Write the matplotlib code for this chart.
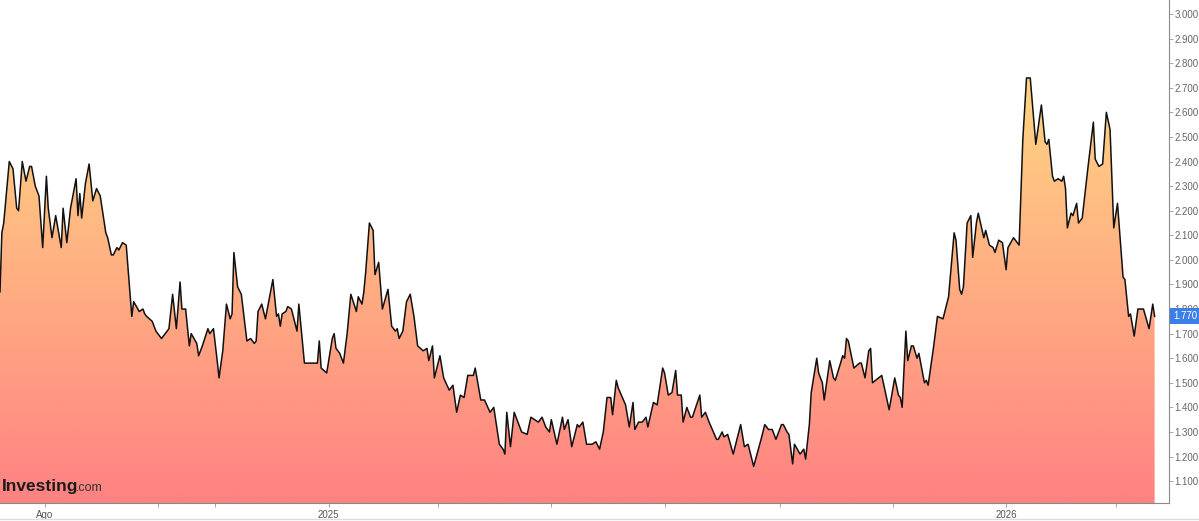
import numpy as np
import pandas as pd
import matplotlib
matplotlib.use('Agg')
import matplotlib.pyplot as plt
import matplotlib.dates as mdates
from matplotlib.colors import LinearSegmentedColormap
from matplotlib.patches import Polygon
from matplotlib.lines import Line2D

# datos (fecha, precio)
fechas = [
    '2024-07-08', '2024-07-09', '2024-07-10', '2024-07-13', '2024-07-15', '2024-07-17', '2024-07-18',
    '2024-07-20', '2024-07-22', '2024-07-24', '2024-07-25', '2024-07-27', '2024-07-29', '2024-07-31',
    '2024-08-02', '2024-08-03', '2024-08-05', '2024-08-07', '2024-08-10', '2024-08-11', '2024-08-13',
    '2024-08-15', '2024-08-18', '2024-08-19', '2024-08-20', '2024-08-21', '2024-08-23', '2024-08-25',
    '2024-08-27', '2024-08-29', '2024-08-31', '2024-09-03', '2024-09-04', '2024-09-06', '2024-09-07',
    '2024-09-09', '2024-09-10', '2024-09-12', '2024-09-14', '2024-09-17', '2024-09-18', '2024-09-21',
    '2024-09-23', '2024-09-24', '2024-09-25', '2024-09-28', '2024-09-30', '2024-10-03', '2024-10-06',
    '2024-10-07', '2024-10-09', '2024-10-11', '2024-10-13', '2024-10-14', '2024-10-16', '2024-10-18',
    '2024-10-19', '2024-10-22', '2024-10-23', '2024-10-25', '2024-10-28', '2024-10-29', '2024-10-31',
    '2024-11-02', '2024-11-03', '2024-11-05', '2024-11-07', '2024-11-09', '2024-11-10', '2024-11-11',
    '2024-11-13', '2024-11-15', '2024-11-18', '2024-11-20', '2024-11-22', '2024-11-23', '2024-11-24',
    '2024-11-26', '2024-11-28', '2024-11-30', '2024-12-02', '2024-12-04', '2024-12-05', '2024-12-06',
    '2024-12-07', '2024-12-09', '2024-12-10', '2024-12-12', '2024-12-15', '2024-12-16', '2024-12-19',
    '2024-12-26', '2024-12-27', '2024-12-28', '2024-12-31', '2025-01-03', '2025-01-04', '2025-01-05',
    '2025-01-07', '2025-01-09', '2025-01-11', '2025-01-13', '2025-01-16', '2025-01-17', '2025-01-19',
    '2025-01-20', '2025-01-21', '2025-01-23', '2025-01-25', '2025-01-26', '2025-01-28', '2025-01-30',
    '2025-02-02', '2025-02-04', '2025-02-06', '2025-02-07', '2025-02-08', '2025-02-10', '2025-02-12',
    '2025-02-14', '2025-02-16', '2025-02-18', '2025-02-21', '2025-02-23', '2025-02-24', '2025-02-26',
    '2025-02-27', '2025-03-02', '2025-03-04', '2025-03-07', '2025-03-09', '2025-03-11', '2025-03-13',
    '2025-03-15', '2025-03-17', '2025-03-20', '2025-03-21', '2025-03-24', '2025-03-26', '2025-03-29',
    '2025-03-31', '2025-04-03', '2025-04-05', '2025-04-06', '2025-04-07', '2025-04-09', '2025-04-11',
    '2025-04-15', '2025-04-18', '2025-04-20', '2025-04-24', '2025-04-26', '2025-04-28', '2025-04-30',
    '2025-05-01', '2025-05-04', '2025-05-07', '2025-05-08', '2025-05-10', '2025-05-12', '2025-05-15',
    '2025-05-16', '2025-05-18', '2025-05-20', '2025-05-23', '2025-05-25', '2025-05-27', '2025-05-29',
    '2025-05-31', '2025-06-02', '2025-06-03', '2025-06-05', '2025-06-06', '2025-06-10', '2025-06-12',
    '2025-06-14', '2025-06-15', '2025-06-17', '2025-06-19', '2025-06-21', '2025-06-22', '2025-06-25',
    '2025-06-27', '2025-06-30', '2025-07-01', '2025-07-03', '2025-07-05', '2025-07-07', '2025-07-08',
    '2025-07-10', '2025-07-11', '2025-07-13', '2025-07-15', '2025-07-16', '2025-07-20', '2025-07-21',
    '2025-07-23', '2025-07-25', '2025-07-29', '2025-07-30', '2025-08-01', '2025-08-02', '2025-08-04',
    '2025-08-07', '2025-08-11', '2025-08-13', '2025-08-15', '2025-08-18', '2025-08-22', '2025-08-24',
    '2025-08-26', '2025-08-28', '2025-08-30', '2025-09-02', '2025-09-03', '2025-09-05', '2025-09-06',
    '2025-09-08', '2025-09-09', '2025-09-12', '2025-09-14', '2025-09-15', '2025-09-17', '2025-09-18',
    '2025-09-21', '2025-09-22', '2025-09-24', '2025-09-25', '2025-09-28', '2025-09-30', '2025-10-01',
    '2025-10-05', '2025-10-06', '2025-10-07', '2025-10-08', '2025-10-11', '2025-10-14', '2025-10-15',
    '2025-10-17', '2025-10-19', '2025-10-20', '2025-10-21', '2025-10-26', '2025-10-30', '2025-11-02',
    '2025-11-04', '2025-11-05', '2025-11-06', '2025-11-08', '2025-11-09', '2025-11-11', '2025-11-12',
    '2025-11-14', '2025-11-15', '2025-11-18', '2025-11-19', '2025-11-20', '2025-11-23', '2025-11-25',
    '2025-11-28', '2025-12-01', '2025-12-04', '2025-12-05', '2025-12-07', '2025-12-08', '2025-12-09',
    '2025-12-11', '2025-12-13', '2025-12-14', '2025-12-16', '2025-12-17', '2025-12-20', '2025-12-21',
    '2025-12-23', '2025-12-25', '2025-12-26', '2025-12-28', '2025-12-30', '2026-01-01', '2026-01-02',
    '2026-01-05', '2026-01-06', '2026-01-08', '2026-01-10', '2026-01-12', '2026-01-14', '2026-01-17',
    '2026-01-20', '2026-01-22', '2026-01-23', '2026-01-24', '2026-01-26', '2026-01-27', '2026-01-29',
    '2026-01-31', '2026-02-01', '2026-02-02', '2026-02-03', '2026-02-05', '2026-02-06', '2026-02-08',
    '2026-02-09', '2026-02-11', '2026-02-14', '2026-02-17', '2026-02-18', '2026-02-20', '2026-02-22',
    '2026-02-24', '2026-02-26', '2026-02-28', '2026-03-02', '2026-03-05', '2026-03-06', '2026-03-08',
    '2026-03-09', '2026-03-11', '2026-03-13', '2026-03-16', '2026-03-19', '2026-03-21', '2026-03-22',
]
valores = [
    1.87, 2.11, 2.15, 2.40, 2.37, 2.21, 2.20,
    2.40, 2.32, 2.38, 2.38, 2.30, 2.26, 2.05,
    2.34, 2.21, 2.09, 2.18, 2.05, 2.21, 2.07,
    2.21, 2.33, 2.18, 2.27, 2.17, 2.31, 2.39,
    2.24, 2.29, 2.26, 2.11, 2.09, 2.02, 2.02,
    2.05, 2.04, 2.07, 2.06, 1.77, 1.83, 1.79,
    1.80, 1.78, 1.77, 1.75, 1.71, 1.68, 1.71,
    1.72, 1.86, 1.72, 1.91, 1.80, 1.80, 1.65,
    1.70, 1.66, 1.61, 1.65, 1.72, 1.70, 1.72,
    1.59, 1.52, 1.63, 1.82, 1.76, 1.78, 2.03,
    1.89, 1.86, 1.67, 1.68, 1.66, 1.67, 1.79,
    1.82, 1.76, 1.84, 1.92, 1.77, 1.78, 1.73,
    1.78, 1.79, 1.81, 1.80, 1.71, 1.82, 1.58,
    1.58, 1.67, 1.56, 1.54, 1.68, 1.70, 1.64,
    1.62, 1.58, 1.70, 1.86, 1.79, 1.85, 1.82,
    1.87, 1.95, 2.15, 2.12, 1.94, 1.99, 1.80,
    1.88, 1.73, 1.71, 1.72, 1.68, 1.71, 1.83,
    1.86, 1.77, 1.65, 1.63, 1.64, 1.59, 1.65,
    1.52, 1.61, 1.52, 1.47, 1.49, 1.38, 1.45,
    1.44, 1.53, 1.53, 1.56, 1.43, 1.43, 1.38,
    1.40, 1.25, 1.23, 1.21, 1.38, 1.24, 1.38,
    1.30, 1.29, 1.36, 1.34, 1.36, 1.32, 1.30,
    1.35, 1.25, 1.36, 1.31, 1.35, 1.24, 1.33,
    1.32, 1.34, 1.25, 1.25, 1.26, 1.23, 1.30,
    1.44, 1.44, 1.37, 1.51, 1.48, 1.41, 1.32,
    1.42, 1.31, 1.34, 1.34, 1.36, 1.32, 1.42,
    1.41, 1.56, 1.54, 1.45, 1.46, 1.55, 1.45,
    1.45, 1.34, 1.40, 1.36, 1.36, 1.45, 1.36,
    1.38, 1.34, 1.27, 1.27, 1.30, 1.28, 1.29,
    1.21, 1.33, 1.24, 1.25, 1.16, 1.27, 1.33,
    1.31, 1.31, 1.27, 1.33, 1.33, 1.30, 1.29,
    1.17, 1.25, 1.21, 1.23, 1.19, 1.33, 1.46,
    1.60, 1.54, 1.50, 1.43, 1.59, 1.52, 1.51,
    1.61, 1.60, 1.68, 1.67, 1.56, 1.58, 1.58,
    1.52, 1.63, 1.64, 1.50, 1.53, 1.39, 1.52,
    1.45, 1.44, 1.40, 1.71, 1.59, 1.65, 1.65,
    1.60, 1.62, 1.50, 1.51, 1.49, 1.65, 1.77,
    1.76, 1.85, 2.11, 2.08, 1.88, 1.86, 1.89,
    2.15, 2.18, 2.01, 2.15, 2.19, 2.09, 2.12,
    2.06, 2.05, 2.03, 2.08, 2.07, 1.96, 2.05,
    2.09, 2.08, 2.06, 2.49, 2.74, 2.74, 2.47,
    2.63, 2.48, 2.47, 2.49, 2.34, 2.32, 2.33,
    2.32, 2.34, 2.29, 2.13, 2.19, 2.18, 2.23,
    2.15, 2.17, 2.37, 2.56, 2.41, 2.38, 2.39,
    2.60, 2.53, 2.13, 2.23, 1.93, 1.92, 1.77,
    1.78, 1.69, 1.80, 1.80, 1.72, 1.82, 1.77,
]
ultimo = 1.770

valores_y = np.round(np.arange(1.1, 3.001, 0.1), 1)
ticks_x = ['2024-08-01', '2024-10-01', '2024-11-01', '2025-01-01', '2025-03-01', '2025-05-01',
           '2025-07-01', '2025-09-01', '2025-11-01', '2026-01-01', '2026-03-01']
etiquetas_x = ['Ago', '', '', '2025', '', '', '', '', '', '2026', '']

x = mdates.date2num(pd.to_datetime(fechas))
y = np.array(valores)
y0, y1 = 1.011, 3.057

fig = plt.figure(figsize=(11.99, 5.21), dpi=100)
ax = fig.add_axes([0, 18 / 521, 1169 / 1199, 503 / 521])

# relleno con degradado recortado por el area bajo la curva
cmap = LinearSegmentedColormap.from_list('relleno', ['#ff8282', '#ffac82', '#ffd583'])
grad = np.linspace(0, 1, 256).reshape(-1, 1)
im = ax.imshow(grad, cmap=cmap, aspect='auto', origin='lower',
               extent=[x[0], x[-1], y0, y.max()], zorder=1, interpolation='bilinear')
poly = Polygon(np.column_stack([np.r_[x[0], x, x[-1]], np.r_[y0, y, y0]]),
               closed=True, facecolor='none', edgecolor='none')
ax.add_patch(poly)
im.set_clip_path(poly)
ax.plot(x, y, color='#111111', lw=1.1, zorder=3)

ax.set_xlim(mdates.date2num(pd.Timestamp('2024-07-08')), mdates.date2num(pd.Timestamp('2026-03-29 18:00')))
ax.set_ylim(y0, y1)

# ejes
for s in ['top', 'left']:
    ax.spines[s].set_visible(False)
for s in ['right', 'bottom']:
    ax.spines[s].set_color('#8a8a8a')
    ax.spines[s].set_linewidth(0.8)
ax.yaxis.tick_right()
ax.set_yticks(valores_y)
ax.set_yticklabels(['{:.3f}'.format(v) for v in valores_y])
ax.set_xticks(mdates.date2num(pd.to_datetime(ticks_x)))
ax.set_xticklabels(etiquetas_x)
ax.tick_params(axis='y', length=3, width=0.6, color='#999999', labelsize=7, labelcolor='#666666', pad=1)
ax.tick_params(axis='x', length=3, width=0.6, color='#999999', labelsize=7, labelcolor='#555555', pad=2)
for t in ax.get_yticklabels() + ax.get_xticklabels():
    t.set_family('Liberation Sans')

# etiqueta del ultimo precio
ax.text(1.0035, ultimo, '{:.3f}'.format(ultimo), transform=ax.get_yaxis_transform(),
        ha='left', va='center', fontsize=7, color='white', zorder=5, clip_on=False,
        family='Liberation Sans',
        bbox=dict(boxstyle='square,pad=0.3', fc='#3d7fe8', ec='none'))

# logo
fig.text(2 / 1199, 1 - 486 / 521, 'Investing', family='Liberation Sans', weight='bold',
         fontsize=12.5, color='#1c1c1c', va='center', ha='left')
fig.text(76 / 1199, 1 - 488 / 521, '.com', family='Liberation Sans', fontsize=9,
         color='#333333', va='center', ha='left')
fig.add_artist(Line2D([0, 1], [2 / 521, 2 / 521], color='#dddddd', lw=1))

plt.savefig('out.png', dpi=100)
